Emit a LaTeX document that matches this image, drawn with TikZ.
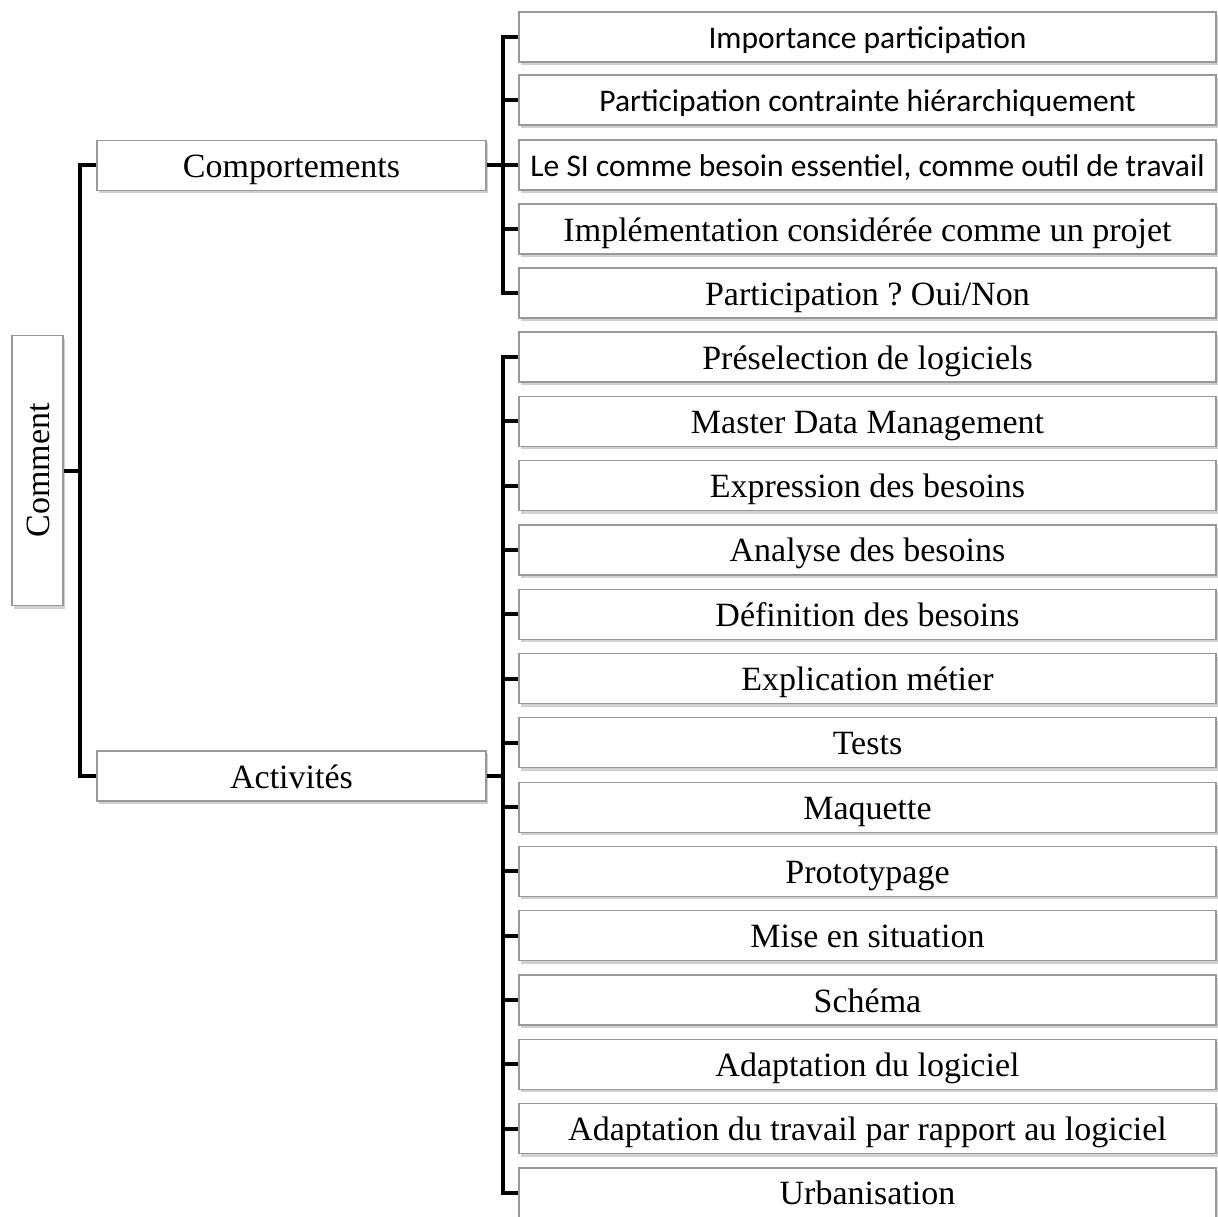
\documentclass[tikz,border=0pt]{standalone}
\usepackage{fontspec}
\setmainfont{Liberation Serif}
\newfontfamily\calib{Carlito}
\usetikzlibrary{shadows}
\frenchspacing

\tikzset{
  itembox/.style={draw=black!40, line width=1.2pt, fill=white, minimum height=50pt,
    inner sep=0pt, text height=29pt, text depth=5pt,
    drop shadow={shadow xshift=2pt, shadow yshift=-3pt, fill=black!30, opacity=0.6}},
  leafbox/.style={itembox, minimum width=697pt},
  midbox/.style={itembox, minimum width=389pt},
  sanstext/.style={font=\calib\fontsize{31.5}{34}\selectfont},
  bracket/.style={line width=4pt, line join=miter}
}

\begin{document}
\begin{tikzpicture}[x=1pt, y=-1pt, font=\fontsize{34}{38}\selectfont]

		% frame
		\useasboundingbox (0,0) rectangle (1218,1217);

		% root and branches
		\node	[itembox, minimum width=270pt, minimum height=51pt, rotate=90] (root) at (37.5,470.5) {Comment};
		\node	[midbox] (comp) at (291.5,165.5) {Comportements};
		\node	[midbox] (act) at (291.5,776) {Activités};

		% behaviour leaves
		\node	[leafbox, sanstext] (c1) at (867.5,37)	{Importance participation};
		\node	[leafbox, sanstext] (c2) at (867.5,100)	{Participation contrainte hiérarchiquement};
		\node	[leafbox, sanstext] (c3) at (867.5,165)	{Le SI comme besoin essentiel, comme outil de travail};
		\node	[leafbox] (c4) at (867.5,229)	{Implémentation considérée comme un projet};
		\node	[leafbox] (c5) at (867.5,293)	{Participation ? Oui/Non};

		% activity leaves
		\foreach \i/\txt in {0/Préselection de logiciels, 1/Master Data Management,
				2/Expression des besoins, 3/Analyse des besoins, 4/Définition des besoins,
				5/Explication métier, 6/Tests, 7/Maquette, 8/Prototypage,
				9/Mise en situation, 10/Schéma, 11/Adaptation du logiciel,
				12/Adaptation du travail par rapport au logiciel, 13/Urbanisation}
			\node [leafbox] (a\i) at (867.5,{357+64.3*\i}) {\txt};

		% spines
		\coordinate (s0) at (80,0);
		\coordinate (s1) at (503,0);

		% connectors
		\draw	[bracket] (root.south) -- (s0 |- root.south);
		\draw	[bracket] (comp.west) -- (s0 |- comp.west) -- (s0 |- act.west) -- (act.west);
		\draw	[bracket] (comp.east) -- (s1 |- comp.east);
		\draw	[bracket] (c1.west) -- (s1 |- c1.west) -- (s1 |- c5.west) -- (c5.west);
		\foreach \k in {2,3,4}
			\draw [bracket] (s1 |- c\k.west) -- (c\k.west);
		\draw	[bracket] (act.east) -- (s1 |- act.east);
		\draw	[bracket] (a0.west) -- (s1 |- a0.west) -- (s1 |- a13.west) -- (a13.west);
		\foreach \k in {1,...,12}
			\draw [bracket] (s1 |- a\k.west) -- (a\k.west);
	\end{tikzpicture}
\end{document}
